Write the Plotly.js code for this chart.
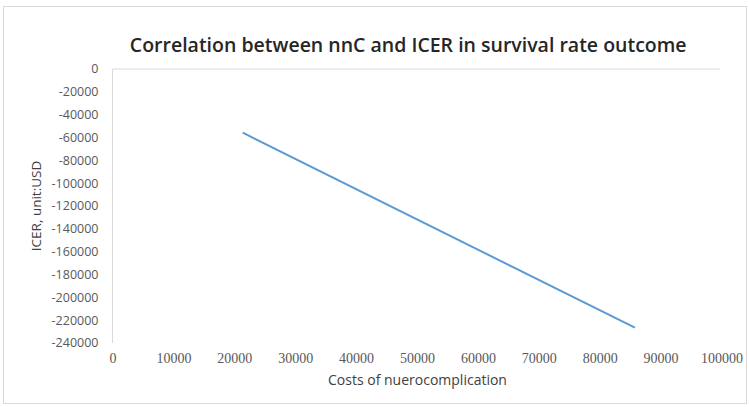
<!DOCTYPE html>
<html>
<head>
<meta charset="utf-8">
<script src="https://cdn.plot.ly/plotly-3.0.1.min.js"></script>
<style>
  html, body { margin: 0; padding: 0; background: #ffffff; }
  #wrap { position: relative; width: 749px; height: 407px; }
  #chart { position: absolute; left: 0; top: 0; width: 749px; height: 407px; }
  #frame { position: absolute; left: 3px; top: 6px; width: 742px; height: 396px;
           border: 1px solid #d9d9d9; pointer-events: none; }
</style>
</head>
<body>
<div id="wrap">
  <div id="chart"></div>
  <div id="frame"></div>
</div>
<script>
// Data
const costs = [21300, 85700];          // Costs of nuerocomplication
const icer  = [-55800, -226600];       // ICER, unit: USD
const xTicks = [0, 10000, 20000, 30000, 40000, 50000, 60000, 70000, 80000, 90000, 100000];
const yTicks = [0, -20000, -40000, -60000, -80000, -100000, -120000, -140000, -160000, -180000, -200000, -220000, -240000];

const trace = {
  x: costs,
  y: icer,
  type: 'scatter',
  mode: 'lines',
  line: { color: '#5b9bd5', width: 2 },
  hoverinfo: 'none'
};

const layout = {
  width: 749,
  height: 407,
  margin: { l: 113, r: 27, t: 69, b: 64 },
  paper_bgcolor: '#ffffff',
  plot_bgcolor: '#ffffff',
  showlegend: false,
  title: {
    text: 'Correlation between nnC and ICER in survival rate outcome',
    font: { family: 'Open Sans, sans-serif', size: 19.5, weight: 600, color: '#262626' },
    x: 0.545, xanchor: 'center',
    y: 0.89, yanchor: 'middle', yref: 'container'
  },
  xaxis: {
    range: [0, 100000],
    tickvals: xTicks,
    ticktext: xTicks.map(String),
    showgrid: false,
    zeroline: false,
    showline: false,
    ticks: '',
    ticklabelstandoff: 5,
    tickfont: { family: 'Liberation Serif', size: 14, color: '#595959' },
    title: {
      text: 'Costs of nuerocomplication',
      font: { family: 'Open Sans, sans-serif', size: 14, color: '#404040' },
      standoff: 10
    },
    fixedrange: true
  },
  yaxis: {
    range: [-240000, 0],
    tickvals: yTicks,
    ticktext: yTicks.map(String),
    showgrid: false,
    zeroline: false,
    showline: true,
    linecolor: '#d9d9d9',
    linewidth: 1,
    ticks: '',
    ticklabelstandoff: 11,
    tickfont: { family: 'Open Sans, sans-serif', size: 12.5, color: '#595959' },
    title: {
      text: 'ICER, unit:USD',
      font: { family: 'Open Sans, sans-serif', size: 13.5, color: '#404040' },
      standoff: 6
    },
    fixedrange: true
  },
  shapes: [{
    type: 'line', xref: 'paper', yref: 'paper',
    x0: 0, x1: 0.997, y0: 1, y1: 1,
    line: { color: '#d9d9d9', width: 1 }
  }]
};

Plotly.newPlot('chart', [trace], layout, { staticPlot: true, displayModeBar: false });
</script>
</body>
</html>
